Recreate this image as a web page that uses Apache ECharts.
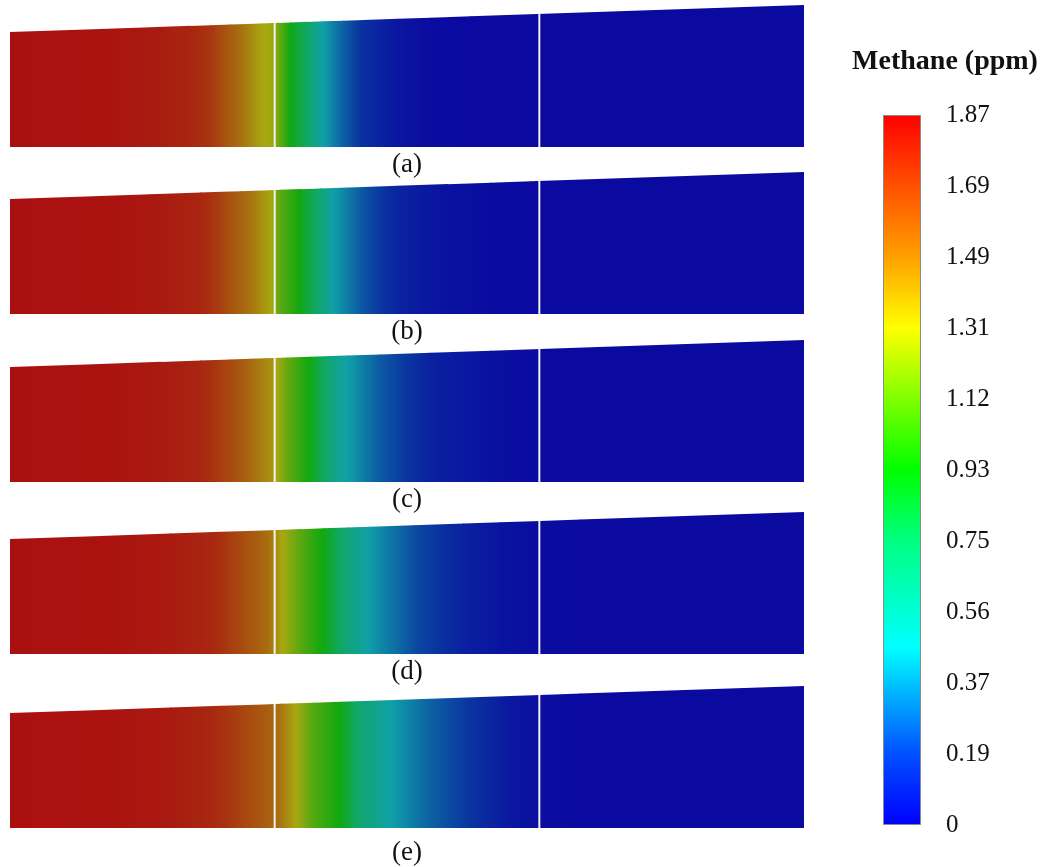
<!DOCTYPE html>
<html><head><meta charset="utf-8">
<script src="https://cdn.jsdelivr.net/npm/echarts@6/dist/echarts.min.js"></script>
<style>html,body{margin:0;padding:0;background:#fff}#c{width:1044px;height:867px}</style>
</head><body><div id="c"></div><script>
// ---- data ----
const panelLabels = ['(a)', '(b)', '(c)', '(d)', '(e)'];
// axial position along the channel (3 equal sections), methane concentration (ppm)
const posA = [0, 0.340, 0.529, 0.680, 0.756, 0.831, 0.895, 0.945, 0.990, 1.013, 1.058, 1.122, 1.183, 1.258, 1.334, 1.462, 1.587, 1.738, 3.0];
const valA = [1.87, 1.86, 1.82, 1.76, 1.68, 1.52, 1.42, 1.33, 1.28, 1.18, 0.93, 0.74, 0.47, 0.30, 0.16, 0.05, 0.01, 0, 0];
const posB = [0, 0.340, 0.529, 0.718, 0.767, 0.869, 0.926, 0.982, 1.020, 1.096, 1.171, 1.220, 1.334, 1.462, 1.651, 1.814, 1.965, 3.0];
const valB = [1.87, 1.86, 1.83, 1.76, 1.68, 1.50, 1.42, 1.32, 1.12, 0.93, 0.68, 0.47, 0.27, 0.11, 0.03, 0.01, 0, 0];
const posC = [0, 0.340, 0.567, 0.718, 0.831, 0.907, 0.963, 0.994, 1.047, 1.133, 1.209, 1.273, 1.398, 1.587, 1.814, 2.002, 3.0];
const valC = [1.87, 1.86, 1.82, 1.76, 1.60, 1.48, 1.40, 1.36, 1.15, 0.93, 0.66, 0.47, 0.28, 0.10, 0.03, 0, 0];
const posD = [0, 0.340, 0.605, 0.767, 0.895, 0.982, 1.031, 1.096, 1.183, 1.273, 1.360, 1.523, 1.712, 1.851, 2.002, 2.154, 3.0];
const valD = [1.87, 1.86, 1.82, 1.74, 1.56, 1.45, 1.30, 1.12, 0.93, 0.66, 0.46, 0.25, 0.10, 0.04, 0.01, 0, 0];
const posE = [0, 0.340, 0.605, 0.767, 0.895, 0.982, 1.020, 1.084, 1.145, 1.247, 1.334, 1.447, 1.587, 1.776, 1.889, 2.002, 2.154, 3.0];
const valE = [1.87, 1.86, 1.82, 1.74, 1.60, 1.50, 1.45, 1.30, 1.10, 0.93, 0.66, 0.46, 0.30, 0.15, 0.06, 0.02, 0, 0];
const sectionBounds = [1, 2];
const colorbarTicks = ['0', '0.19', '0.37', '0.56', '0.75', '0.93', '1.12', '1.31', '1.49', '1.69', '1.87'];
const vMax = 1.87;

// ---- geometry / style ----
const L = 3, H_IN = 115, H_OUT = 142;
const topAt = x => H_IN + (H_OUT - H_IN) * x / L;
const panelTops = [5, 172, 340, 512, 686];
const labelGaps = [4, 4, 4, 4, 11];
const serif = "'Liberation Serif','Times New Roman',serif";
const brightStops = [[0,'#0000FF'],[0.1,'#0050FF'],[0.25,'#00FFFF'],[0.4,'#00FF80'],[0.5,'#00FF00'],[0.7,'#FFFF00'],[0.8,'#FFA000'],[0.9,'#FF5000'],[1,'#FF0000']];
const darkStops = [[0,'#0A0AA0'],[0.1,'#0A36A0'],[0.25,'#10A0A8'],[0.4,'#10A860'],[0.5,'#10A810'],[0.7,'#A8A810'],[0.8,'#A86210'],[0.9,'#A83410'],[1,'#AA1010']];

function cmap(stops, f) {
  f = Math.max(0, Math.min(1, f));
  let i = 0;
  while (i < stops.length - 2 && f > stops[i + 1][0]) i++;
  const a = echarts.color.parse(stops[i][1]), b = echarts.color.parse(stops[i + 1][1]);
  const t = (f - stops[i][0]) / (stops[i + 1][0] - stops[i][0]);
  return 'rgb(' + [0, 1, 2].map(k => Math.round(a[k] + (b[k] - a[k]) * t)).join(',') + ')';
}

const profiles = [[posA, valA], [posB, valB], [posC, valC], [posD, valD], [posE, valE]];

function renderPanel(params, api) {
  const x0 = api.value(0), x1 = api.value(1), v0 = api.value(2), v1 = api.value(3);
  const last = x1 >= L;
  const a = api.coord([x0, 0]), b = api.coord([x1, 0]), c = api.coord([x1, topAt(x1)]), d = api.coord([x0, topAt(x0)]);
  const ext = last ? 0 : 1.0; // overlap next segment slightly to hide seams
  const slope = (c[1] - d[1]) / (c[0] - d[0]);
  const pts = [a, [b[0] + ext, b[1]], [c[0] + ext, c[1] + slope * ext], d];
  const stops = [];
  for (let k = 0; k <= 10; k++) {
    const t = k / 10;
    stops.push({ offset: t, color: cmap(darkStops, (v0 + (v1 - v0) * t) / vMax) });
  }
  const grad = new echarts.graphic.LinearGradient(a[0], 0, b[0], 0, stops, true);
  return { type: 'polygon', shape: { points: pts }, style: { fill: grad } };
}
function renderBound(params, api) {
  const x = api.value(0);
  const p0 = api.coord([x, 0]), p1 = api.coord([x, topAt(x)]);
  return { type: 'line', shape: { x1: p0[0], y1: p0[1], x2: p1[0], y2: p1[1] }, style: { stroke: '#F2F2F2', lineWidth: 2 } };
}

const grids = [], xAxes = [], yAxes = [], series = [];
profiles.forEach((pr, i) => {
  grids.push({ left: 10, width: 794, top: panelTops[i], height: H_OUT });
  xAxes.push({ type: 'value', gridIndex: i, min: 0, max: L, axisLine: { show: false }, axisTick: { show: false },
    axisLabel: { show: false }, splitLine: { show: false },
    name: panelLabels[i], nameLocation: 'middle', nameGap: labelGaps[i],
    nameTextStyle: { fontFamily: serif, fontSize: 27, color: '#111', verticalAlign: 'top' } });
  yAxes.push({ type: 'value', gridIndex: i, min: 0, max: H_OUT, show: false });
  const segs = [];
  for (let k = 0; k < pr[0].length - 1; k++) segs.push([pr[0][k], pr[0][k + 1], pr[1][k], pr[1][k + 1]]);
  series.push({ type: 'custom', xAxisIndex: i, yAxisIndex: i, renderItem: renderPanel, data: segs, encode: { x: [0, 1] }, silent: true });
  series.push({ type: 'custom', xAxisIndex: i, yAxisIndex: i, renderItem: renderBound, data: sectionBounds.map(b => [b]), encode: { x: 0 }, silent: true, z: 3 });
});
// colour bar
grids.push({ left: 883, width: 38, top: 115, height: 710 });
xAxes.push({ type: 'category', gridIndex: 5, data: ['ppm'], show: false });
yAxes.push({ type: 'value', gridIndex: 5, min: 0, max: vMax, interval: vMax / 10, position: 'right',
  axisLine: { show: false }, axisTick: { show: false }, splitLine: { show: false },
  axisLabel: { margin: 25, fontFamily: serif, fontSize: 25, color: '#111',
    formatter: v => colorbarTicks[Math.round(v / (vMax / 10))] } });
series.push({ type: 'bar', xAxisIndex: 5, yAxisIndex: 5, barWidth: 38, data: [vMax], silent: true,
  itemStyle: { borderColor: '#8a8a8a', borderWidth: 1,
    color: new echarts.graphic.LinearGradient(0, 1, 0, 0, brightStops.map(s => ({ offset: s[0], color: s[1] }))) } });

const chart = echarts.init(document.getElementById('c'), null, { renderer: 'canvas' });
chart.setOption({
  animation: false,
  backgroundColor: '#fff',
  title: { text: 'Methane (ppm)', left: 940, top: 43, textAlign: 'center',
    textStyle: { fontFamily: serif, fontSize: 28, fontWeight: 'bold', color: '#111' } },
  grid: grids, xAxis: xAxes, yAxis: yAxes, series: series
});
</script></body></html>
